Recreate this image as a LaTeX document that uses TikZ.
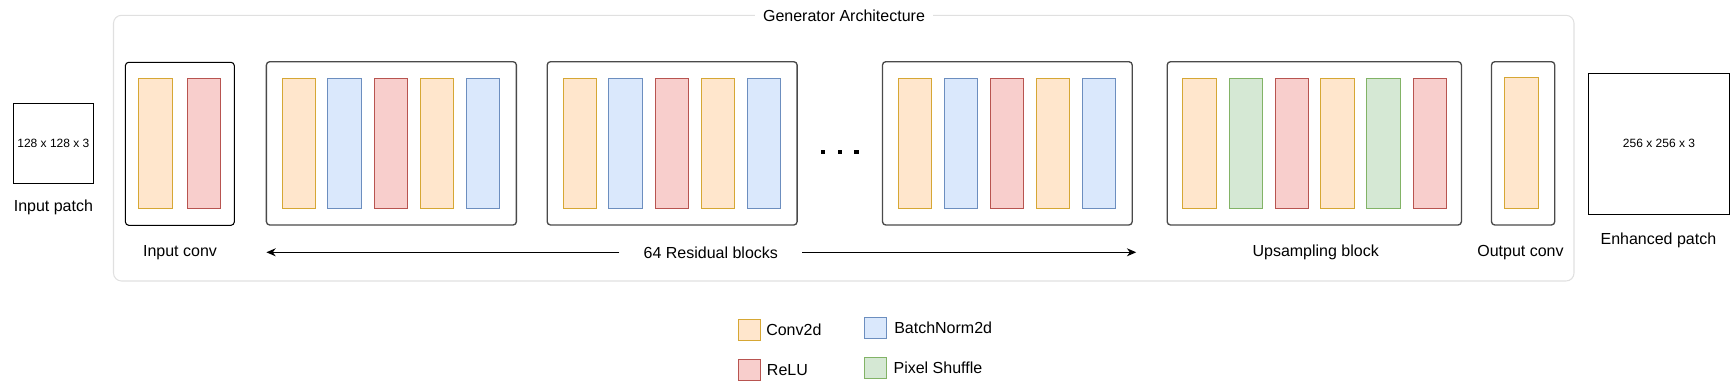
\documentclass[tikz,border=0pt]{standalone}
\usepackage{fontspec}
\setmainfont{Liberation Sans}
\usetikzlibrary{fit,arrows.meta}
\definecolor{convF}{HTML}{FFE6CC}\definecolor{convD}{HTML}{D6A734}
\definecolor{bnF}{HTML}{DAE8FC}\definecolor{bnD}{HTML}{6C8EBF}
\definecolor{reluF}{HTML}{F8CECC}\definecolor{reluD}{HTML}{B85450}
\definecolor{psF}{HTML}{D5E8D4}\definecolor{psD}{HTML}{82B366}
\definecolor{blockgray}{HTML}{4A4A4A}
\definecolor{contgray}{HTML}{E0E0E0}
\newcommand\mylayer[4]{\node[#2, fit={(#3,78.3)(#4,208.7)}] (#1) {};}
\begin{document}
\begin{tikzpicture}[x=0.75pt,y=-0.75pt,
  lbl/.style={font=\fontsize{12}{14}\selectfont, inner sep=0pt},
  small/.style={font=\fontsize{9}{11}\selectfont, inner sep=0pt},
  layer/.style={inner sep=0pt, line width=0.75pt},
  conv/.style={layer, fill=convF, draw=convD},
  bn/.style={layer, fill=bnF, draw=bnD},
  relu/.style={layer, fill=reluF, draw=reluD},
  ps/.style={layer, fill=psF, draw=psD},
  blockbox/.style={inner sep=0pt, draw=blockgray, line width=1pt, rounded corners=2.5pt},
  container/.style={inner sep=0pt, draw=contgray, line width=0.8pt, rounded corners=6pt},
  patch/.style={inner sep=0pt, draw=black, line width=0.9pt},
  arr/.style={line width=0.75pt, -{Stealth[length=7pt,width=6pt]}},
]
\useasboundingbox (0,0) rectangle (1731,385);
% container
\node[container, fit={(113.5,15.3)(1574,281)}] (gen) {};
\node[lbl, fill=white, inner xsep=6pt, inner ysep=2pt] (title) at (844,15.3) {Generator Architecture};

% input patch
\node[patch, fit={(13.2,103.3)(93.6,183.3)}] (inpatch) {};
\node[small] (intext) at (53.4,143) {128 x 128 x 3};
\node[lbl] (inlabel) at (53.4,207.3) {Input patch};

% blocks
\node[blockbox, draw=black, line width=0.8pt, fit={(125.4,62.3)(234.3,225.3)}] (inconv) {};
\node[blockbox, fit={(266.4,61.7)(516.4,225)}] (res1) {};
\node[blockbox, fit={(547.2,61.7)(797.1,225)}] (res2) {};
\node[blockbox, fit={(882.5,61.7)(1132.2,225)}] (res3) {};
\node[blockbox, fit={(1167.2,61.7)(1461.4,225)}] (up) {};
\node[blockbox, fit={(1491.5,61.7)(1554.7,225)}] (outconv) {};

% input conv layers
\mylayer{ic1}{conv}{138.9}{172.5}
\mylayer{ic2}{relu}{187.5}{220.7}
% residual block 1
\mylayer{ra1}{conv}{282.1}{315.7}
\mylayer{ra2}{bn}{327.9}{361.4}
\mylayer{ra3}{relu}{374.3}{407.5}
\mylayer{ra4}{conv}{420.4}{453.6}
\mylayer{ra5}{bn}{466.1}{499.3}
% residual block 2
\mylayer{rb1}{conv}{563.3}{596.6}
\mylayer{rb2}{bn}{608.8}{642.5}
\mylayer{rb3}{relu}{655.5}{688.8}
\mylayer{rb4}{conv}{701.1}{734.7}
\mylayer{rb5}{bn}{747}{780.7}
% residual block 3
\mylayer{rc1}{conv}{898.2}{931.8}
\mylayer{rc2}{bn}{944.5}{977.8}
\mylayer{rc3}{relu}{990.4}{1023.7}
\mylayer{rc4}{conv}{1036.3}{1069.6}
\mylayer{rc5}{bn}{1082.2}{1115.5}
% upsampling
\mylayer{u1}{conv}{1182.9}{1216.7}
\mylayer{u2}{ps}{1229.2}{1262.6}
\mylayer{u3}{relu}{1275}{1308.5}
\mylayer{u4}{conv}{1320.9}{1354.7}
\mylayer{u5}{ps}{1366.8}{1400.6}
\mylayer{u6}{relu}{1413.1}{1446.5}
% output conv
\node[conv, fit={(1504.8,77.7)(1538.6,208)}] (oc1) {};

% dots
\foreach \i/\x in {1/823.1,2/840,3/856.4}
  \node[fill=black, inner sep=0pt, minimum width=3.4pt, minimum height=3pt] (dot\i) at (\x,152) {};

% labels
\node[lbl] (l-inconv) at (180,252.3) {Input conv};
\node[lbl, inner xsep=18pt] (l-res) at (710.8,252.3) {64 Residual blocks};
\node[lbl] (l-up) at (1315.7,252.3) {Upsampling block};
\node[lbl] (l-out) at (1520.5,252.3) {Output conv};
\coordinate (al) at (266.4,252.3);
\coordinate (ar) at (1136.2,252.3);
\draw[arr] (l-res.west) -- (al);
\draw[arr] (l-res.east) -- (ar);

% enhanced patch
\node[patch, fit={(1588.1,73.3)(1729.8,214.3)}] (outpatch) {};
\node[small] (outtext) at (1659,143.7) {256 x 256 x 3};
\node[lbl] (outlabel) at (1658.4,240) {Enhanced patch};

% legend
\node[conv, fit={(738.3,319.3)(760.3,340.7)}] (k-conv) {};
\node[relu, fit={(738.3,359.3)(760.3,380.3)}] (k-relu) {};
\node[bn, fit={(864.3,317.3)(886.3,338.7)}] (k-bn) {};
\node[ps, fit={(864.3,357.3)(886.3,378.7)}] (k-ps) {};
\node[lbl, anchor=west] (t-conv) at (766,330) {Conv2d};
\node[lbl, anchor=west] (t-relu) at (766.7,370) {ReLU};
\node[lbl, anchor=west] (t-bn) at (894,328) {BatchNorm2d};
\node[lbl, anchor=west] (t-ps) at (893.3,368) {Pixel Shuffle};
\end{tikzpicture}
\end{document}
